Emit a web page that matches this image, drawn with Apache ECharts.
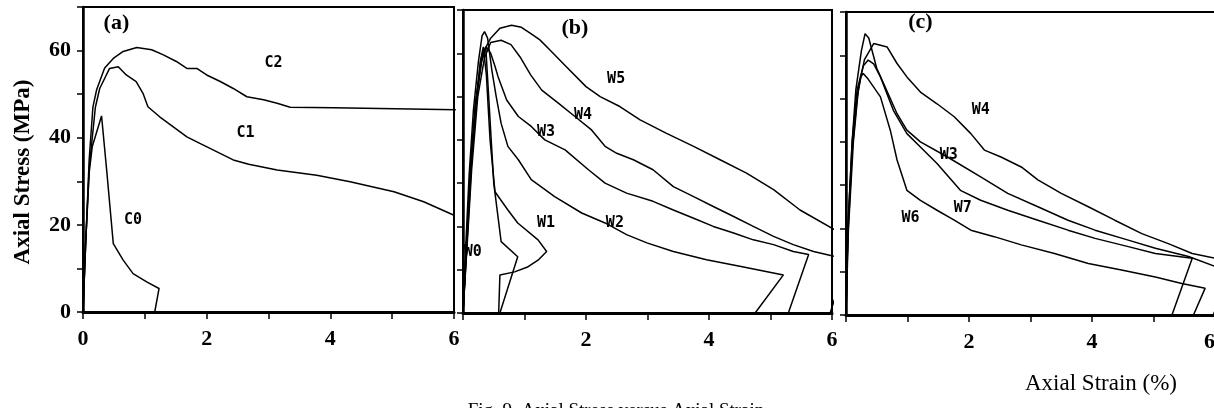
<!DOCTYPE html>
<html>
<head>
<meta charset="utf-8">
<script src="https://cdn.jsdelivr.net/npm/echarts@6/dist/echarts.min.js"></script>
<style>
  html, body { margin: 0; padding: 0; background: #fff; }
  #chart { width: 1214px; height: 408px; }
</style>
</head>
<body>
<div id="chart"></div>
<script>
// axis ranges (same for all three panels)
var strainMax = 6;
var stressMax = 70;

// panel (a) : C0, C1, C2   [axial strain %, axial stress MPa]
var c0 = [[0,0],[0.04,15],[0.1,32],[0.15,38],[0.3,45],[0.38,33],[0.49,15.7],[0.65,11.9],[0.81,8.8],[1.03,6.9],[1.23,5.4],[1.16,0]];
var c1 = [[0,0],[0.04,15],[0.1,33],[0.2,47],[0.27,51.3],[0.43,55.9],[0.57,56.3],[0.7,54.4],[0.86,52.9],[0.97,50.2],[1.05,47.1],[1.24,44.8],[1.46,42.5],[1.68,40.2],[1.89,38.7],[2.16,36.8],[2.43,34.9],[2.68,33.9],[3.14,32.6],[3.78,31.4],[4.32,29.9],[5.03,27.6],[5.51,25.3],[6.0,22.2]];
var c2 = [[0,0],[0.05,18],[0.1,35],[0.16,47],[0.22,51],[0.35,56],[0.49,58.2],[0.65,59.8],[0.87,60.7],[1.11,60.2],[1.3,59],[1.51,57.5],[1.68,55.9],[1.84,55.9],[2.0,54.4],[2.22,52.9],[2.43,51.3],[2.65,49.4],[2.92,48.7],[3.14,47.9],[3.35,47.0],[4.05,46.9],[6.03,46.4]];

// panel (b) : W0 - W5
var bW0 = [[0,0],[0.05,14],[0.12,33],[0.2,48],[0.3,59],[0.37,61.5],[0.5,30],[0.62,16.5],[0.89,13],[0.6,0]];
var bW1 = [[0,0],[0.05,13],[0.12,32],[0.2,47],[0.28,58],[0.33,61.5],[0.38,55],[0.44,40],[0.52,28],[0.73,23.8],[0.89,20.8],[1.22,16.9],[1.36,14.2],[1.22,12.2],[1.06,10.7],[0.84,9.5],[0.6,8.8],[0.58,0]];
var bW2 = [[0,0],[0.04,14],[0.1,32],[0.17,47],[0.25,58],[0.31,64],[0.35,65],[0.4,63.5],[0.47,56],[0.54,50],[0.62,43.8],[0.73,38.5],[0.9,35.4],[1.11,30.8],[1.49,26.9],[1.93,23.1],[2.31,20.8],[2.66,18.1],[2.99,16.2],[3.42,14.2],[3.96,12.3],[4.5,10.8],[5.21,8.8],[4.75,0]];
var bW3 = [[0,0],[0.05,14],[0.12,33],[0.2,48],[0.3,58],[0.38,61.5],[0.45,60],[0.52,57],[0.57,54.6],[0.71,49.2],[0.9,45.4],[1.11,43.1],[1.33,40],[1.66,37.7],[2.04,33.1],[2.31,30],[2.66,27.7],[3.09,25.8],[3.42,23.8],[3.75,21.9],[4.07,20],[4.4,18.5],[4.72,16.9],[5.05,15.8],[5.37,14.2],[5.62,13.5],[5.29,0]];
var bW4 = [[0,0],[0.06,14],[0.14,33],[0.24,50],[0.35,59],[0.45,62.5],[0.62,63],[0.78,62],[0.94,58.9],[1.1,55],[1.28,51.5],[1.55,48.5],[1.82,45.4],[2.09,42.3],[2.31,38.5],[2.5,36.9],[2.77,35.4],[3.09,33.1],[3.42,29.2],[3.75,26.9],[4.07,24.6],[4.4,22.3],[4.72,20],[5.05,17.7],[5.37,15.8],[5.7,14.2],[6.03,13.1]];
var bW5 = [[0,0],[0.06,15],[0.14,35],[0.22,50],[0.32,60],[0.45,63.5],[0.6,65.8],[0.79,66.5],[0.95,66],[1.14,64.2],[1.25,63.1],[1.41,60.8],[1.68,56.9],[2.0,52.3],[2.23,50],[2.55,47.7],[2.88,44.6],[3.31,41.5],[3.75,38.5],[4.18,35.4],[4.61,32.3],[5.05,28.5],[5.48,23.8],[6.05,19.2],[6.4,19],[5.97,0]];

// panel (c) : W3, W4, W6, W7
var cW3 = [[0,0],[0.03,20],[0.1,40],[0.16,52],[0.25,61],[0.31,65],[0.37,64],[0.5,57],[0.61,53.5],[0.83,46.5],[0.99,42.7],[1.21,40],[1.65,36.5],[2.19,31.9],[2.63,28.1],[3.12,25],[3.61,21.9],[4.05,19.6],[4.59,17.3],[5.03,15.4],[5.57,13.5],[6.01,11.2],[6.3,10.5],[5.97,0]];
var cW4 = [[0,0],[0.04,20],[0.12,40],[0.2,52],[0.3,59],[0.45,62.7],[0.67,61.9],[0.83,58.1],[0.99,55],[1.21,51.5],[1.48,48.8],[1.76,45.8],[2.03,41.9],[2.25,38.1],[2.52,36.5],[2.85,34.2],[3.12,31.2],[3.5,28.1],[3.94,25],[4.37,21.9],[4.81,18.8],[5.24,16.5],[5.63,14.2],[6.01,13.1]];
var cW6 = [[0,0],[0.03,18],[0.1,38],[0.18,50],[0.24,55],[0.28,55.8],[0.36,54.5],[0.56,50.4],[0.72,42.7],[0.83,35.8],[0.99,28.8],[1.21,26.5],[1.48,24.2],[1.76,21.9],[2.03,19.6],[2.41,18.1],[2.85,16.2],[3.39,14.2],[3.94,11.9],[4.48,10.4],[5.03,8.8],[5.46,7.3],[5.84,6.2],[5.65,0]];
var cW7 = [[0,0],[0.03,20],[0.1,40],[0.18,52],[0.28,57.5],[0.36,58.9],[0.45,58],[0.56,55],[0.77,47.3],[0.99,41.9],[1.21,38.8],[1.48,35],[1.86,28.8],[2.19,26.5],[2.63,24.2],[3.12,21.9],[3.61,19.6],[4.05,17.7],[4.59,15.8],[5.03,14.2],[5.63,13.1],[5.3,0]];

// curve names written inside each panel, anchored in data units
var labelsA = [['C2',3.08,57.2],['C1',2.63,41.1],['C0',0.81,21.1]];
var labelsB = [['W5',2.49,54],['W4',1.95,45.7],['W3',1.35,41.8],['W1',1.35,20.8],['W2',2.47,20.8],['W0',0.16,14.1]];
var labelsC = [['W4',2.19,47.3],['W3',1.67,37],['W7',1.9,24.7],['W6',1.05,22.4]];
var panelTags = [['(a)',0.54,66.3],['(b)',1.82,65.8],['(c)',1.21,67.7]];

var panels = [
  { grid: {left: 83, top: 7, width: 371, height: 305}, curves: [c0, c1, c2], labels: labelsA, showZero: true, yLabels: true, lastRight: false },
  { grid: {left: 463, top: 10, width: 369, height: 303}, curves: [bW0, bW1, bW2, bW3, bW4, bW5], labels: labelsB, showZero: false, yLabels: false, lastRight: false },
  { grid: {left: 846, top: 12, width: 369, height: 303}, curves: [cW3, cW4, cW6, cW7], labels: labelsC, showZero: false, yLabels: false, lastRight: true }
];

var serif = '"Liberation Serif", "DejaVu Serif", serif';

var myChart = echarts.init(document.getElementById('chart'), null, {renderer: 'canvas'});

var grids = [], xAxes = [], yAxes = [], series = [];
panels.forEach(function (p, i) {
  grids.push(Object.assign({
    show: true, borderColor: '#000', borderWidth: 2, backgroundColor: 'transparent',
    containLabel: false, outerBoundsMode: 'none'
  }, p.grid));
  xAxes.push({
    gridIndex: i, type: 'value', min: 0, max: strainMax, interval: 1,
    axisLine: {lineStyle: {color: '#000', width: 3}},
    axisTick: {inside: false, length: 7, lineStyle: {color: '#000', width: 1.5}},
    splitLine: {show: false},
    axisLabel: {
      margin: 16, color: '#000', fontFamily: serif, fontWeight: 'bold', fontSize: 22,
      hideOverlap: false,
      alignMaxLabel: p.lastRight ? 'right' : null,
      formatter: (function (showZero) {
        return function (v) { return (v % 2 === 0 && (showZero || v > 0)) ? String(v) : ''; };
      })(p.showZero)
    }
  });
  yAxes.push({
    gridIndex: i, type: 'value', min: 0, max: stressMax, interval: 10,
    axisLine: {lineStyle: {color: '#000', width: 2.5}},
    axisTick: {inside: false, length: 6, lineStyle: {color: '#000', width: 1.5}},
    splitLine: {show: false},
    axisLabel: {
      show: p.yLabels, margin: 12, color: '#000', fontFamily: serif, fontWeight: 'bold', fontSize: 22,
      formatter: function (v) { return (v % 20 === 0 && v < stressMax) ? String(v) : ''; }
    }
  });
  p.curves.forEach(function (d) {
    series.push({
      type: 'line', xAxisIndex: i, yAxisIndex: i, data: d,
      showSymbol: false, symbol: 'none', clip: true,
      lineStyle: {color: '#000', width: 1.5}
    });
  });
});

option = {
  animation: false,
  backgroundColor: '#fff',
  grid: grids,
  xAxis: xAxes,
  yAxis: yAxes,
  series: series
};
myChart.setOption(option);

// annotations placed through the axes
var graphics = [];
panels.forEach(function (p, i) {
  p.labels.forEach(function (l) {
    var pt = myChart.convertToPixel({gridIndex: i}, [l[1], l[2]]);
    graphics.push({type: 'text', x: pt[0], y: pt[1], style: {
      text: l[0], fill: '#000', font: 'bold 15px "DejaVu Sans Mono", monospace',
      textAlign: 'center', textVerticalAlign: 'middle'}});
  });
  var t = panelTags[i];
  var tp = myChart.convertToPixel({gridIndex: i}, [t[1], t[2]]);
  graphics.push({type: 'text', x: tp[0], y: tp[1], style: {
    text: t[0], fill: '#000', font: 'bold 22px ' + serif,
    textAlign: 'center', textVerticalAlign: 'middle'}});
});

// axis titles and figure caption
graphics.push({type: 'text', x: 23, y: 172, rotation: Math.PI / 2, style: {
  text: 'Axial Stress (MPa)', fill: '#000', font: 'bold 23px ' + serif,
  textAlign: 'center', textVerticalAlign: 'middle'}});
graphics.push({type: 'text', x: 1101, y: 384, style: {
  text: 'Axial Strain (%)', fill: '#000', font: '23px ' + serif,
  textAlign: 'center', textVerticalAlign: 'middle'}});
graphics.push({type: 'text', x: 616, y: 411, style: {
  text: 'Fig. 9  Axial Stress versus Axial Strain', fill: '#000', font: '19px ' + serif,
  textAlign: 'center', textVerticalAlign: 'middle'}});

myChart.setOption({graphic: graphics});
</script>
</body>
</html>
